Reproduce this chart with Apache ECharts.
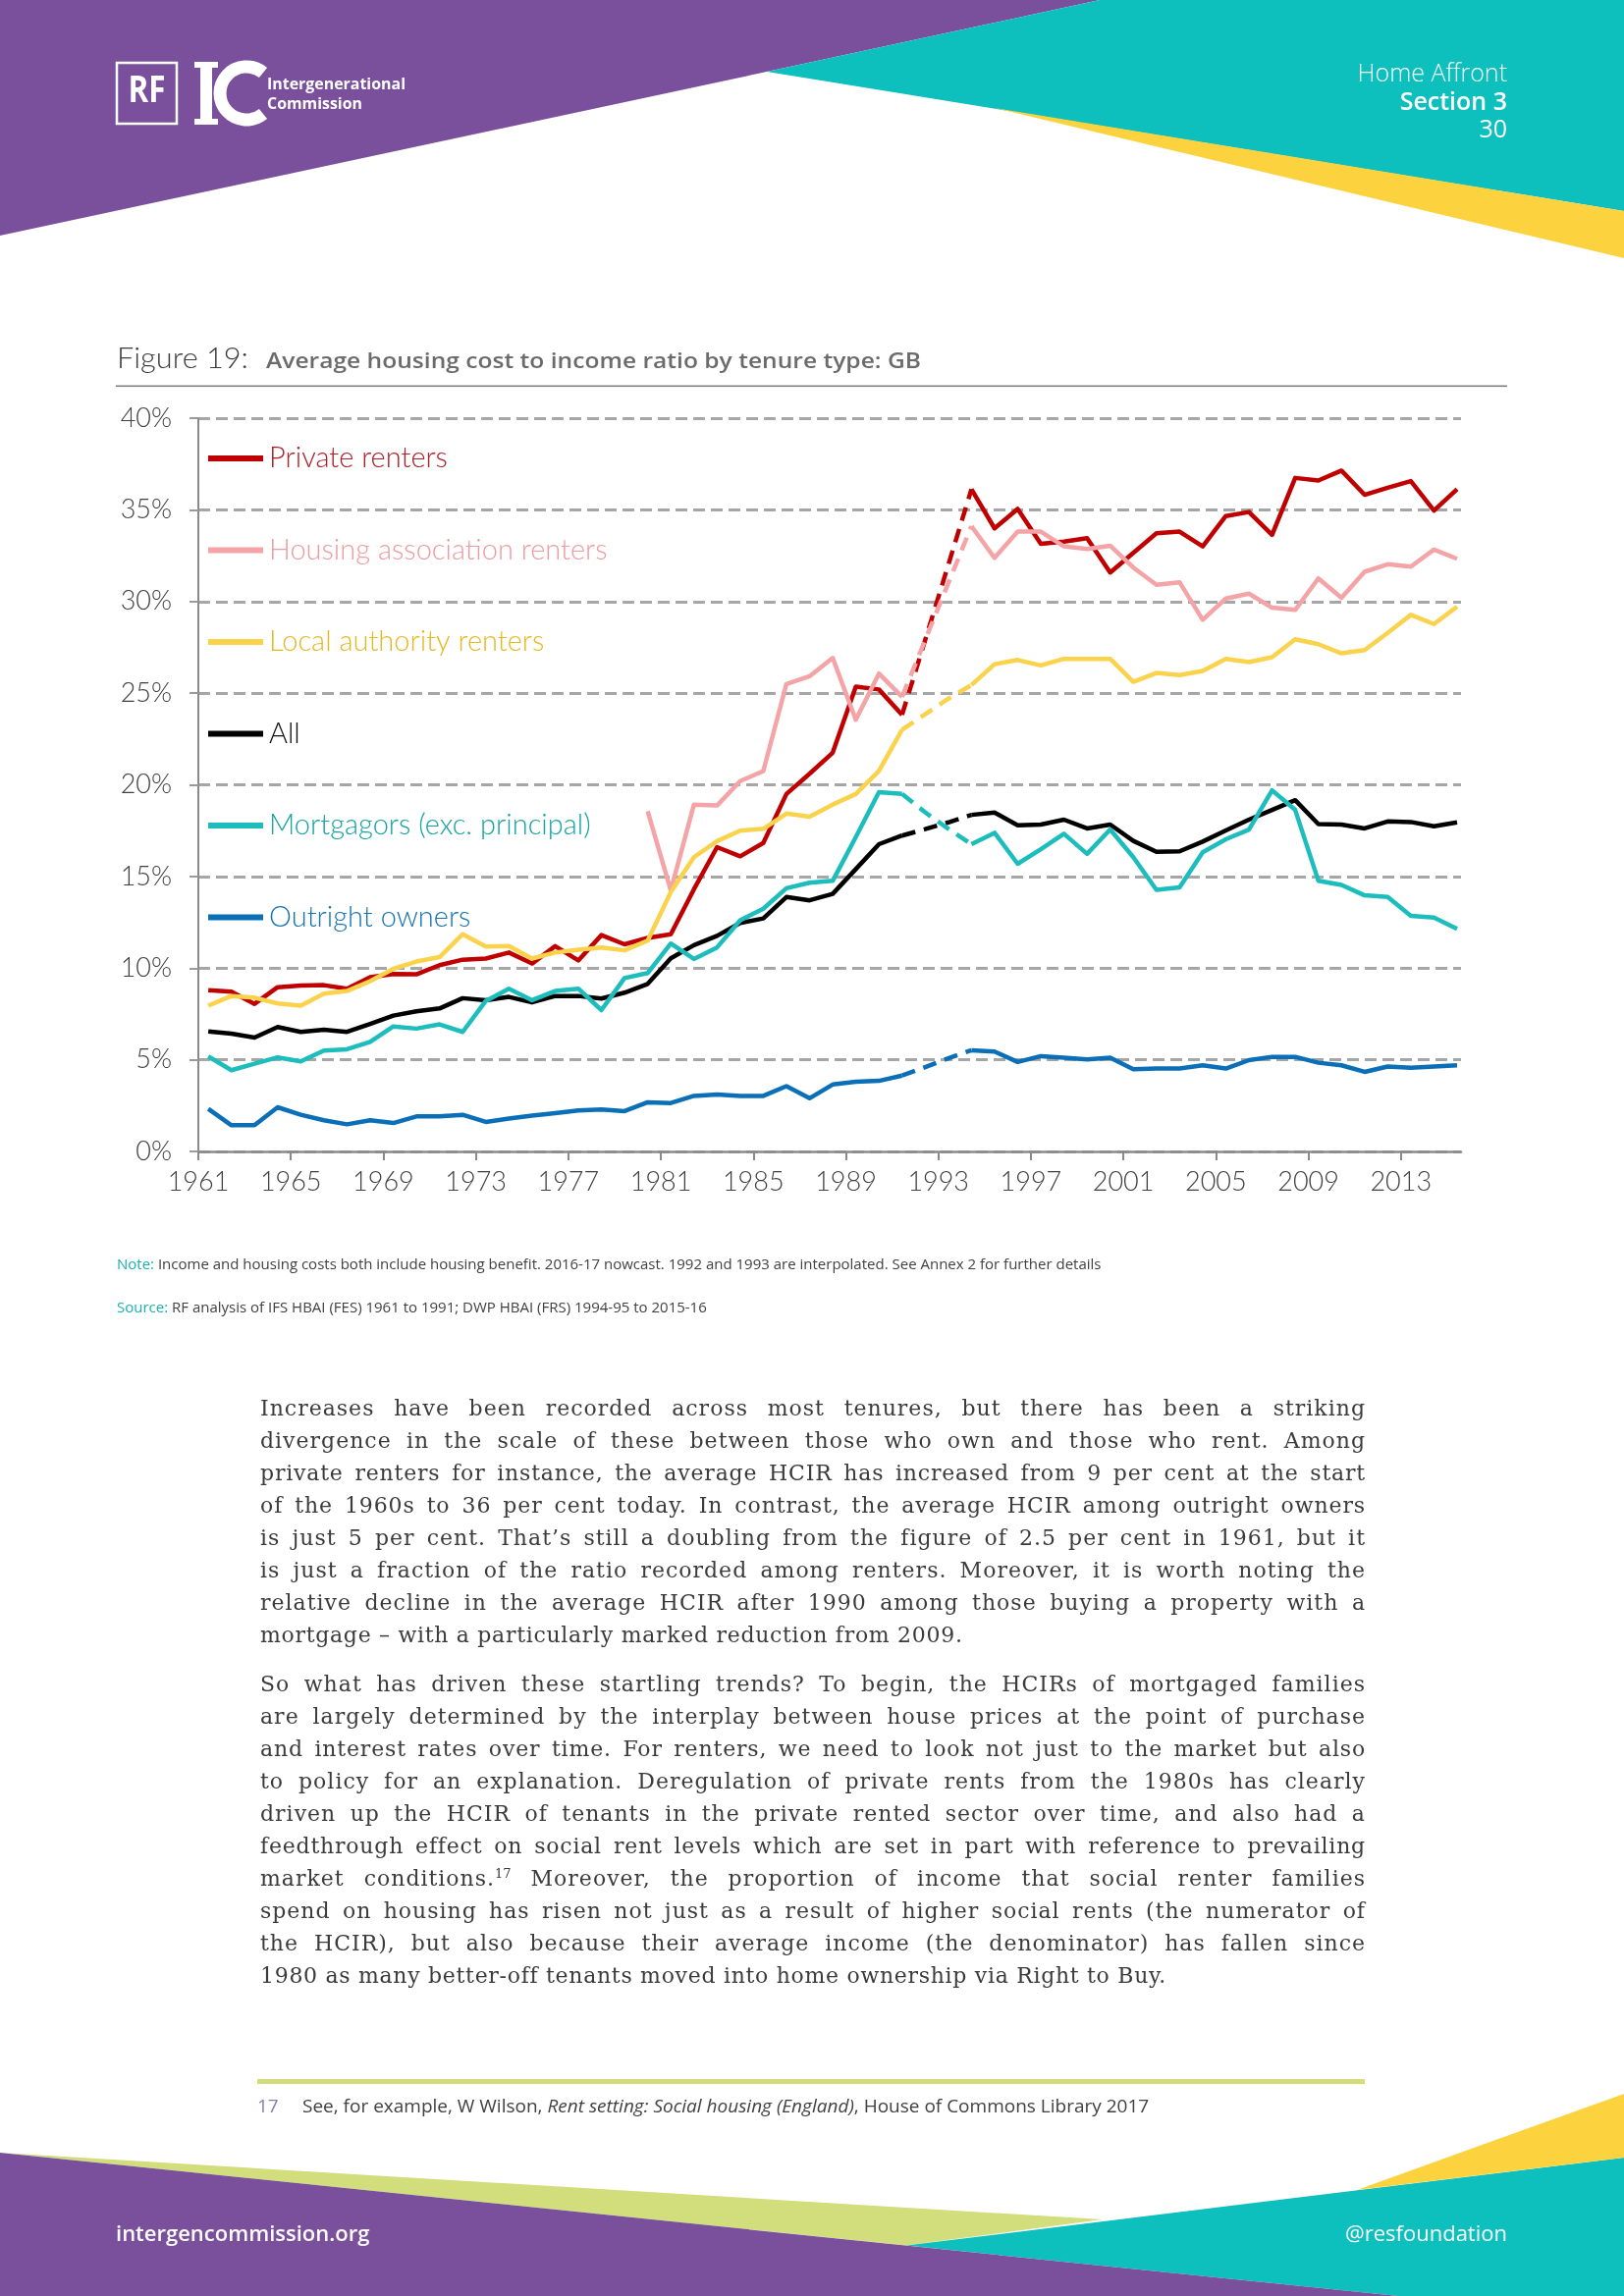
<!DOCTYPE html>
<html>
<head>
<meta charset="utf-8">
<script src="https://cdn.jsdelivr.net/npm/echarts@6/dist/echarts.min.js"></script>
<style>
  html, body { margin: 0; padding: 0; background: #fff; }
  #page { position: relative; width: 1654px; height: 2339px; overflow: hidden; background: #fff; }
  #chart { position: absolute; left: 0; top: 0; width: 1654px; height: 1240px; z-index: 1; }
  #deco { position: absolute; left: 0; top: 0; z-index: 2; pointer-events: none; }
  .para { position: absolute; left: 265px; width: 1126px; z-index: 3;
          font-family: "DejaVu Serif", serif; font-size: 22px; color: #3b3b3b; }
  .para div { height: 33px; line-height: 33px; white-space: nowrap; letter-spacing: 0.7px; }
  .para sup { font-size: 13px; line-height: 0; vertical-align: 8px; letter-spacing: 0; }
</style>
</head>
<body>
<div id="page">
  <div id="chart"></div>

  <svg id="deco" width="1654" height="2339" xmlns="http://www.w3.org/2000/svg">
    <!-- header shapes -->
    <polygon points="0,0 1120,0 781,73 0,240" fill="#7A509C"/>
    <polygon points="1120,0 1654,0 1654,215 781,73" fill="#0DBFBD"/>
    <polygon points="1013,110 1654,215 1654,263" fill="#FCD33F"/>
    <!-- logo -->
    <rect x="119" y="64" width="61" height="62" fill="none" stroke="#fff" stroke-width="2.5"/>
    <text x="149.5" y="104" text-anchor="middle" font-family="Open Sans" font-weight="700" font-size="37" fill="#fff" textLength="38" lengthAdjust="spacingAndGlyphs">RF</text>
    <rect x="204" y="63" width="12" height="64" fill="#fff"/>
    <rect x="198" y="63" width="24" height="6" fill="#fff"/>
    <rect x="198" y="121" width="24" height="6" fill="#fff"/>
    <path d="M 268 74 A 27 27 0 1 0 268 116" fill="none" stroke="#fff" stroke-width="13"/>
    <text x="272" y="91" font-family="Open Sans" font-weight="700" font-size="16" fill="#fff" textLength="141" lengthAdjust="spacingAndGlyphs">Intergenerational</text>
    <text x="272" y="111" font-family="Open Sans" font-weight="700" font-size="16" fill="#fff" textLength="97" lengthAdjust="spacingAndGlyphs">Commission</text>
    <!-- header right text -->
    <text x="1535" y="83" text-anchor="end" font-family="Open Sans" font-weight="300" font-size="25" fill="#fff">Home Affront</text>
    <text x="1535" y="112" text-anchor="end" font-family="Open Sans" font-weight="600" font-size="25" fill="#fff">Section 3</text>
    <text x="1535" y="140" text-anchor="end" font-family="Open Sans" font-weight="400" font-size="25" fill="#fff">30</text>

    <!-- figure title -->
    <text x="119" y="375" font-family="Lato" font-weight="300" font-size="29" fill="#3b3b3b" textLength="134" lengthAdjust="spacingAndGlyphs">Figure 19:</text>
    <text x="271" y="375" font-family="Open Sans" font-weight="600" font-size="22" fill="#6b6b6b" textLength="667" lengthAdjust="spacingAndGlyphs">Average housing cost to income ratio by tenure type: GB</text>
    <rect x="118" y="392.5" width="1417" height="1.6" fill="#7f7f7f"/>

    <!-- note / source -->
    <text x="119" y="1293" font-family="Open Sans" font-size="15" fill="#404040"><tspan fill="#19B2B0">Note:</tspan> Income and housing costs both include housing benefit. 2016-17 nowcast. 1992 and 1993 are interpolated. See Annex 2 for further details</text>
    <text x="119" y="1337" font-family="Open Sans" font-size="15" fill="#404040"><tspan fill="#19B2B0">Source:</tspan> RF analysis of IFS HBAI (FES) 1961 to 1991; DWP HBAI (FRS) 1994-95 to 2015-16</text>

    <!-- footnote -->
    <rect x="262" y="2118" width="1128" height="5" fill="#D2DE7C"/>
    <text x="262" y="2152" font-family="Open Sans" font-size="19" fill="#8B7BA8">17</text>
    <text x="308" y="2152" font-family="Open Sans" font-size="19" fill="#404040">See, for example, W Wilson, <tspan font-style="italic">Rent setting: Social housing (England)</tspan>, House of Commons Library 2017</text>

    <!-- footer shapes -->
    <polygon points="0,2193 1123,2261 923,2287.6" fill="#D2DE7C"/>
    <polygon points="923,2287.6 1654,2198 1654,2339 1424,2339" fill="#0DBFBD"/>
    <polygon points="1382,2231 1654,2133 1654,2198" fill="#FCD33F"/>
    <polygon points="0,2193 1424,2339 0,2339" fill="#7A509C"/>
    <text x="118" y="2283" font-family="Open Sans" font-weight="600" font-size="22" fill="#fff">intergencommission.org</text>
    <text x="1535" y="2283" text-anchor="end" font-family="Open Sans" font-weight="400" font-size="22" fill="#fff">@resfoundation</text>
  </svg>

  <div class="para" style="top:1418px;">
    <div class="j">Increases have been recorded across most tenures, but there has been a striking</div>
    <div class="j">divergence in the scale of these between those who own and those who rent. Among</div>
    <div class="j">private renters for instance, the average HCIR has increased from 9 per cent at the start</div>
    <div class="j">of the 1960s to 36 per cent today. In contrast, the average HCIR among outright owners</div>
    <div class="j">is just 5 per cent. That’s still a doubling from the figure of 2.5 per cent in 1961, but it</div>
    <div class="j">is just a fraction of the ratio recorded among renters. Moreover, it is worth noting the</div>
    <div class="j">relative decline in the average HCIR after 1990 among those buying a property with a</div>
    <div>mortgage – with a particularly marked reduction from 2009.</div>
  </div>
  <div class="para" style="top:1699px;">
    <div class="j">So what has driven these startling trends? To begin, the HCIRs of mortgaged families</div>
    <div class="j">are largely determined by the interplay between house prices at the point of purchase</div>
    <div class="j">and interest rates over time. For renters, we need to look not just to the market but also</div>
    <div class="j">to policy for an explanation. Deregulation of private rents from the 1980s has clearly</div>
    <div class="j">driven up the HCIR of tenants in the private rented sector over time, and also had a</div>
    <div class="j">feedthrough effect on social rent levels which are set in part with reference to prevailing</div>
    <div class="j">market conditions.<sup>17</sup> Moreover, the proportion of income that social renter families</div>
    <div class="j">spend on housing has risen not just as a result of higher social rents (the numerator of</div>
    <div class="j">the HCIR), but also because their average income (the denominator) has fallen since</div>
    <div>1980 as many better-off tenants moved into home ownership via Right to Buy.</div>
  </div>
</div>

<script>
// ---------------- data ----------------
const years = [1961,1962,1963,1964,1965,1966,1967,1968,1969,1970,
               1971,1972,1973,1974,1975,1976,1977,1978,1979,1980,
               1981,1982,1983,1984,1985,1986,1987,1988,1989,1990,
               1991,1992,1993,1994,1995,1996,1997,1998,1999,2000,
               2001,2002,2003,2004,2005,2006,2007,2008,2009,2010,
               2011,2012,2013,2014,2015];

const tickYears = [1961,1965,1969,1973,1977,1981,1985,1989,1993,1997,2001,2005,2009,2013];

const yTicks = [0,5,10,15,20,25,30,35,40];

// years that were interpolated (drawn dashed, from 1991 to 1994)
const interpolatedYears = [1992, 1993];

const privateRenters = [8.80, 8.71, 8.05, 8.96, 9.05, 9.07, 8.88, 9.50, 9.68, 9.66,
  10.16, 10.46, 10.52, 10.85, 10.25, 11.20, 10.42, 11.80, 11.30, 11.65,
  11.85, 14.30, 16.60, 16.10, 16.83, 19.50, 20.60, 21.75, 25.35, 25.20,
  23.82, 27.90, 32.00, 36.12, 33.99, 35.05, 33.15, 33.27, 33.45, 31.58,
  32.65, 33.72, 33.81, 33.01, 34.66, 34.88, 33.63, 36.74, 36.60, 37.14,
  35.82, 36.21, 36.57, 34.96, 36.12];

const housingAssociation = [null, null, null, null, null, null, null, null, null, null,
  null, null, null, null, null, null, null, null, null, 18.56,
  14.24, 18.92, 18.87, 20.20, 20.75, 25.50, 25.92, 26.92, 23.55, 26.07,
  24.80, 27.90, 31.00, 34.11, 32.38, 33.81, 33.81, 33.01, 32.86, 33.04,
  31.85, 30.91, 31.05, 29.00, 30.16, 30.43, 29.66, 29.54, 31.26, 30.20,
  31.62, 32.03, 31.90, 32.83, 32.33];

const localAuthority = [7.95, 8.48, 8.39, 8.07, 7.95, 8.61, 8.75, 9.29, 9.96, 10.36,
  10.60, 11.85, 11.18, 11.20, 10.52, 10.85, 11.00, 11.12, 10.97, 11.50,
  14.15, 16.05, 16.93, 17.50, 17.60, 18.43, 18.26, 18.92, 19.50, 20.76,
  23.00, 23.85, 24.70, 25.44, 26.58, 26.81, 26.51, 26.87, 26.87, 26.87,
  25.62, 26.10, 25.98, 26.21, 26.87, 26.69, 26.96, 27.94, 27.67, 27.17,
  27.35, 28.29, 29.27, 28.77, 29.72];

const allTenures = [6.55, 6.43, 6.21, 6.79, 6.52, 6.64, 6.52, 6.96, 7.41, 7.64,
  7.80, 8.36, 8.25, 8.43, 8.13, 8.48, 8.48, 8.34, 8.66, 9.14,
  10.54, 11.25, 11.76, 12.46, 12.71, 13.88, 13.70, 14.05, 15.40, 16.76,
  17.23, 17.58, 17.95, 18.36, 18.49, 17.79, 17.83, 18.10, 17.62, 17.83,
  16.94, 16.35, 16.37, 16.90, 17.51, 18.10, 18.63, 19.16, 17.86, 17.83,
  17.62, 18.00, 17.97, 17.74, 17.95];

const mortgagors = [5.18, 4.43, 4.79, 5.13, 4.91, 5.50, 5.57, 5.98, 6.82, 6.70,
  6.93, 6.52, 8.21, 8.88, 8.25, 8.75, 8.88, 7.71, 9.46, 9.73,
  11.34, 10.50, 11.13, 12.61, 13.24, 14.36, 14.66, 14.76, 17.15, 19.60,
  19.50, 18.50, 17.60, 16.76, 17.38, 15.69, 16.49, 17.33, 16.23, 17.56,
  16.05, 14.27, 14.41, 16.32, 17.03, 17.56, 19.70, 18.63, 14.77, 14.54,
  13.97, 13.88, 12.85, 12.76, 12.14];

const outrightOwners = [2.32, 1.43, 1.43, 2.41, 2.00, 1.70, 1.48, 1.70, 1.55, 1.91,
  1.91, 2.00, 1.61, 1.79, 1.96, 2.09, 2.23, 2.29, 2.20, 2.68,
  2.64, 3.03, 3.10, 3.03, 3.03, 3.56, 2.90, 3.65, 3.80, 3.85,
  4.14, 4.60, 5.08, 5.52, 5.45, 4.88, 5.20, 5.11, 5.02, 5.11,
  4.48, 4.52, 4.52, 4.70, 4.52, 4.98, 5.16, 5.16, 4.84, 4.70,
  4.34, 4.63, 4.57, 4.63, 4.70];

const seriesNames = ['Private renters', 'Housing association renters', 'Local authority renters',
                     'All', 'Mortgagors (exc. principal)', 'Outright owners'];
const seriesValues = [privateRenters, housingAssociation, localAuthority, allTenures, mortgagors, outrightOwners];

// ---------------- styling ----------------
const lineColors = ['#C00000', '#F4A3A6', '#FAD24C', '#000000', '#1DBDBD', '#0B6FB8'];
const textColors = ['#AE1E27', '#EF9A9E', '#E4B81E', '#111111', '#14A3A1', '#1672B3'];
const POINT_SHIFT = 0.43;   // points sit slightly right of their year tick in the original
const FONT = 'Lato';

const dashStart = Math.min(...interpolatedYears) - 1;
const dashEnd = Math.max(...interpolatedYears) + 1;

const series = [];
seriesNames.forEach((name, k) => {
  const vals = seriesValues[k];
  const solid = years.map((y, i) => [y + POINT_SHIFT, interpolatedYears.includes(y) ? null : vals[i]]);
  const dashed = years.map((y, i) => [y + POINT_SHIFT, vals[i]]).filter((p, i) => years[i] >= dashStart && years[i] <= dashEnd);
  const common = {
    name, type: 'line', showSymbol: false, symbol: 'none', connectNulls: false,
    itemStyle: { color: lineColors[k] }, z: 2 + k, silent: true
  };
  series.push(Object.assign({}, common, { data: solid,
    lineStyle: { color: lineColors[k], width: 4.5, join: 'round', cap: 'butt' } }));
  series.push(Object.assign({}, common, { data: dashed,
    lineStyle: { color: lineColors[k], width: 4.5, type: [14, 9], cap: 'butt' } }));
});

const chart = echarts.init(document.getElementById('chart'), null, { renderer: 'canvas' });
chart.setOption({
  animation: false,
  backgroundColor: 'transparent',
  grid: { left: 202, top: 426, width: 1286, height: 747, containLabel: false },
  legend: {
    orient: 'vertical', left: 212, top: 452, padding: 0,
    itemGap: 63.5, itemWidth: 56, itemHeight: 6, icon: 'rect',
    selectedMode: false,
    data: seriesNames.map((n, k) => ({ name: n, textStyle: { color: textColors[k] } })),
    textStyle: { fontFamily: FONT, fontWeight: 300, fontSize: 29, lineHeight: 30, padding: [0, 0, 0, 1] }
  },
  xAxis: {
    type: 'value', min: years[0], max: 2015.6, interval: 4,
    axisLine: { show: true, lineStyle: { color: '#8a8a8a', width: 2.5 } },
    axisTick: { show: true, length: 9, lineStyle: { color: '#8a8a8a', width: 2 }, customValues: tickYears },
    axisLabel: { customValues: tickYears, formatter: v => String(v), margin: 18,
                 fontFamily: FONT, fontWeight: 300, fontSize: 27, color: '#404040' },
    splitLine: { show: false }
  },
  yAxis: {
    type: 'value', min: yTicks[0], max: yTicks[yTicks.length - 1], interval: 5,
    axisLine: { show: true, lineStyle: { color: '#8a8a8a', width: 2 } },
    axisTick: { show: true, length: 9, lineStyle: { color: '#9a9a9a', width: 2 } },
    axisLabel: { formatter: '{value}%', margin: 27,
                 fontFamily: FONT, fontWeight: 300, fontSize: 27, color: '#404040' },
    splitLine: { show: true, lineStyle: { color: '#A6A6A6', width: 3, type: [12, 6] } }
  },
  series
});

// ---------------- justify body text lines to the column width ----------------
document.querySelectorAll('.para div.j').forEach(div => {
  const target = div.parentElement.clientWidth;
  const span = document.createElement('span');
  while (div.firstChild) span.appendChild(div.firstChild);
  div.appendChild(span);
  const text = span.textContent;
  const spaces = (text.match(/ /g) || []).length;
  const chars = text.length;
  div.style.letterSpacing = '0px';
  let natural = span.getBoundingClientRect().width;
  let extra = target - natural;
  const ls = Math.max(0, Math.min(1.0, extra * 0.55 / chars));
  div.style.letterSpacing = ls + 'px';
  natural = span.getBoundingClientRect().width;
  extra = target - natural;
  if (spaces > 0) div.style.wordSpacing = (extra / spaces) + 'px';
});
</script>
</body>
</html>
